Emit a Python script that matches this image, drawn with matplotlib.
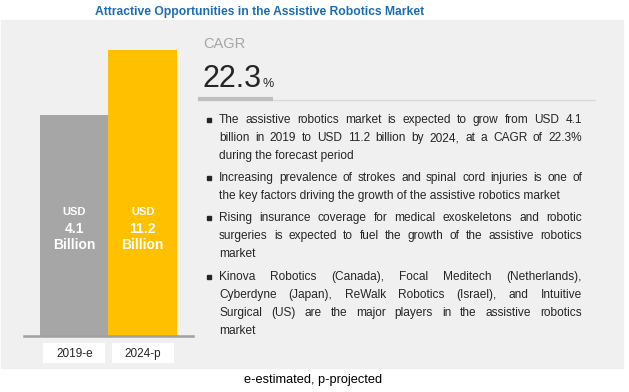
import matplotlib.pyplot as plt
import matplotlib.transforms as mtransforms
import numpy as np

# data
years = ['2019-e', '2024-p']
values = [4.1, 11.2]            # USD billion
bar_heights = [221, 286]       # drawn heights as shown in the graphic (not to scale)
bar_colors = ['#A6A6A6', '#FFC000']
cagr = '22.3'

title = 'Attractive Opportunities in the Assistive Robotics Market'
footer = 'e-estimated, p-projected'
bullets = [
    ['The assistive robotics market is expected to grow from USD 4.1',
     'billion in 2019 to USD 11.2 billion by 2024, at a CAGR of 22.3%',
     'during the forecast period'],
    ['Increasing prevalence of strokes and spinal cord injuries is one of',
     'the key factors driving the growth of the assistive robotics market'],
    ['Rising insurance coverage for medical exoskeletons and robotic',
     'surgeries is expected to fuel the growth of the assistive robotics',
     'market'],
    ['Kinova Robotics (Canada), Focal Meditech (Netherlands),',
     'Cyberdyne (Japan), ReWalk Robotics (Israel), and Intuitive',
     'Surgical (US) are the major players in the assistive robotics',
     'market'],
]
bullet_y = [[120, 138, 156], [178, 196], [218, 236, 254], [277, 295, 313, 331]]

W, H = 629, 392
plt.rcParams['font.family'] = ['Liberation Sans', 'DejaVu Sans']
fig = plt.figure(figsize=(W / 100, H / 100), dpi=100)

# overlay axes in pixel coords (y down)
ov = fig.add_axes([0, 0, 1, 1])
ov.set_xlim(0, W)
ov.set_ylim(H, 0)
ov.axis('off')

ov.add_patch(plt.Rectangle((1, 20), 622, 348, color='#F0F0F0', zorder=0))
ov.text(260, 12, title, ha='center', va='center', fontsize=8.7,
        fontweight='bold', color='#1B6DB3')
ov.text(313, 380, footer, ha='center', va='center', fontsize=9.2, color='black')

# bar axes
bx = fig.add_axes([24 / W, (H - 336) / H, 169 / W, 300 / H])
bx.patch.set_alpha(0)
x = np.arange(len(years))
bx.bar(x, bar_heights, width=1.0, color=bar_colors, zorder=2)
bx.set_xlim(-0.734, 1.734)
bx.set_ylim(0, 300)
for s in ['top', 'right', 'left']:
    bx.spines[s].set_visible(False)
bx.spines['bottom'].set_color('#A0A0A0')
bx.spines['bottom'].set_linewidth(1.8)
bx.set_yticks([])
bx.set_xticks([])
for i, v in enumerate(values):
    bx.text(i, 124, 'USD', ha='center', va='center', fontsize=8,
            fontweight='bold', color='white')
    bx.text(i, 107, f'{v}', ha='center', va='center', fontsize=10,
            fontweight='bold', color='white')
    bx.text(i, 91, 'Billion', ha='center', va='center', fontsize=10,
            fontweight='bold', color='white')

# year label boxes below the axis
tr = mtransforms.blended_transform_factory(bx.transData, ov.transData)
for i, yr in enumerate(years):
    ov.add_patch(plt.Rectangle((i - 0.45, 343), 0.9, 20, transform=tr,
                               facecolor='white', edgecolor='none', zorder=1))
    ov.text(i, 354, yr, transform=tr, ha='center', va='center',
            fontsize=8.5, color='#262626', zorder=2)

# CAGR block
ov.text(203, 44, 'CAGR', ha='left', va='center', fontsize=10.5, color='#A6A6A6')
t = ov.text(202, 87, cagr, ha='left', va='baseline', fontsize=22, color='#262626')
fig.canvas.draw()
r = fig.canvas.get_renderer()
bb = t.get_window_extent(r)
ov.text(bb.x1 + 1, 87, '%', ha='left', va='baseline', fontsize=9, color='#262626')
ov.plot([198, 595], [100, 100], color='#D9D9D9', lw=1)
ov.plot([198, 273], [99, 99], color='#BFBFBF', lw=3, solid_capstyle='butt')

# bullets, justified
x0, x1 = 219, 582
fs = 8.6
for para, ys in zip(bullets, bullet_y):
    ov.plot(209, ys[0], marker='s', markersize=3, color='#262626')
    for j, (line, y) in enumerate(zip(para, ys)):
        words = line.split(' ')
        last = j == len(para) - 1
        if last:
            ov.text(x0, y, line, ha='left', va='center', fontsize=fs, color='#262626')
            continue
        tw = []
        for w in words:
            tt = ov.text(0, 0, w, fontsize=fs)
            tw.append(tt.get_window_extent(r).width)
            tt.remove()
        gap = (x1 - x0 - sum(tw)) / (len(words) - 1)
        xp = x0
        for w, wd in zip(words, tw):
            ov.text(xp, y, w, ha='left', va='center', fontsize=fs, color='#262626')
            xp += wd + gap

fig.savefig('out.png', dpi=100)
